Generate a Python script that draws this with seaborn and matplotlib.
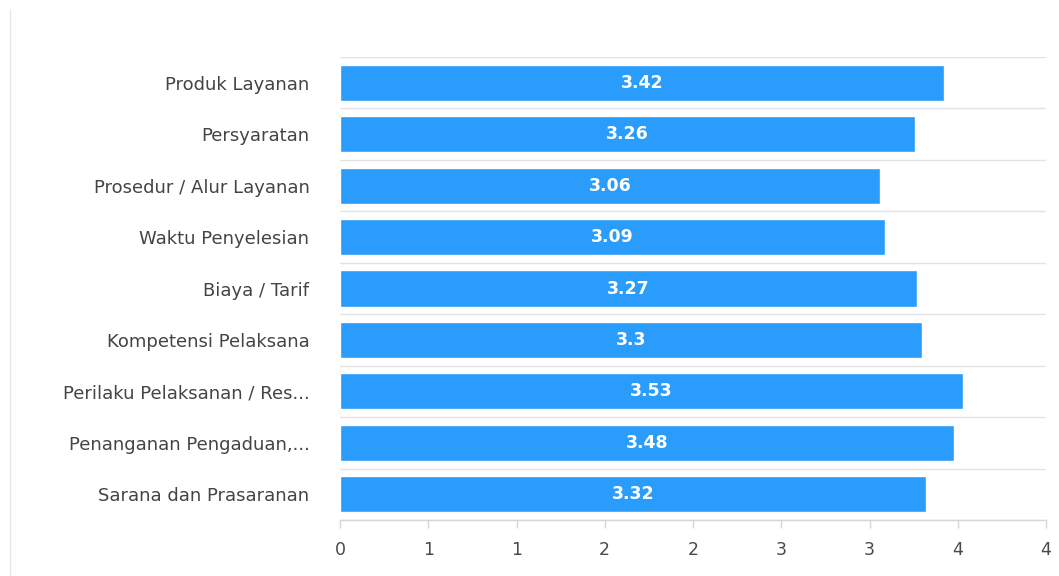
import matplotlib
matplotlib.use("Agg")
import matplotlib.pyplot as plt
from matplotlib.lines import Line2D
import seaborn as sns
import pandas as pd
import numpy as np

categories = [
    "Produk Layanan",
    "Persyaratan",
    "Prosedur / Alur Layanan",
    "Waktu Penyelesian",
    "Biaya / Tarif",
    "Kompetensi Pelaksana",
    "Perilaku Pelaksanan / Res...",
    "Penanganan Pengaduan,...",
    "Sarana dan Prasaranan",
]
scores = [3.42, 3.26, 3.06, 3.09, 3.27, 3.3, 3.53, 3.48, 3.32]
x_ticks = [0, 0.5, 1, 1.5, 2, 2.5, 3, 3.5, 4]
x_tick_labels = ["0", "1", "1", "2", "2", "3", "3", "4", "4"]

sns.set_style("white")
plt.rcParams["font.family"] = ["DejaVu Sans"]

df = pd.DataFrame({"kategori": categories, "nilai": scores})

W, H = 1059, 576
fig = plt.figure(figsize=(W / 100, H / 100), dpi=100)
ax = fig.add_axes([340 / W, 1 - 520 / H, (1046 - 340) / W, (520 - 57) / H])

bar_color = "#2A9CFC"
sns.barplot(data=df, x="nilai", y="kategori", orient="h", color=bar_color,
            saturation=1, width=0.7, ax=ax, zorder=3)

n = len(categories)
ax.set_xlim(0, 4)
ax.set_ylim(n - 0.5, -0.5)

# horizontal separators between categories
for b in np.arange(-0.5, n, 1.0):
    ax.axhline(b, color="#e3e3e3", lw=1.0, zorder=1)

for s in ["top", "right", "left"]:
    ax.spines[s].set_visible(False)
ax.spines["bottom"].set_color("#d6d6d6")
ax.spines["bottom"].set_linewidth(1.0)

ax.set_xticks(x_ticks)
ax.set_xticklabels(x_tick_labels)
ax.tick_params(axis="x", length=6, width=1, color="#d6d6d6", labelsize=12.5,
               labelcolor="#4a4a4a", pad=9, bottom=True)
ax.tick_params(axis="y", length=0, labelsize=13, labelcolor="#444444", pad=22)
for lab in ax.get_yticklabels():
    lab.set_y(lab.get_position()[1])
    lab.set_va("center_baseline")
ax.set_xlabel("")
ax.set_ylabel("")

# value labels centred on each bar
for i, v in enumerate(scores):
    ax.text(v / 2, i, f"{v:g}", ha="center", va="center", color="white",
            fontsize=12.5, fontweight="bold", zorder=4)

# thin page border on the left
fig.add_artist(Line2D([10 / W, 10 / W], [0, 1 - 9 / H], transform=fig.transFigure,
                      color="#e6e6e6", lw=1))

fig.savefig("out.png", dpi=100, facecolor="white")
